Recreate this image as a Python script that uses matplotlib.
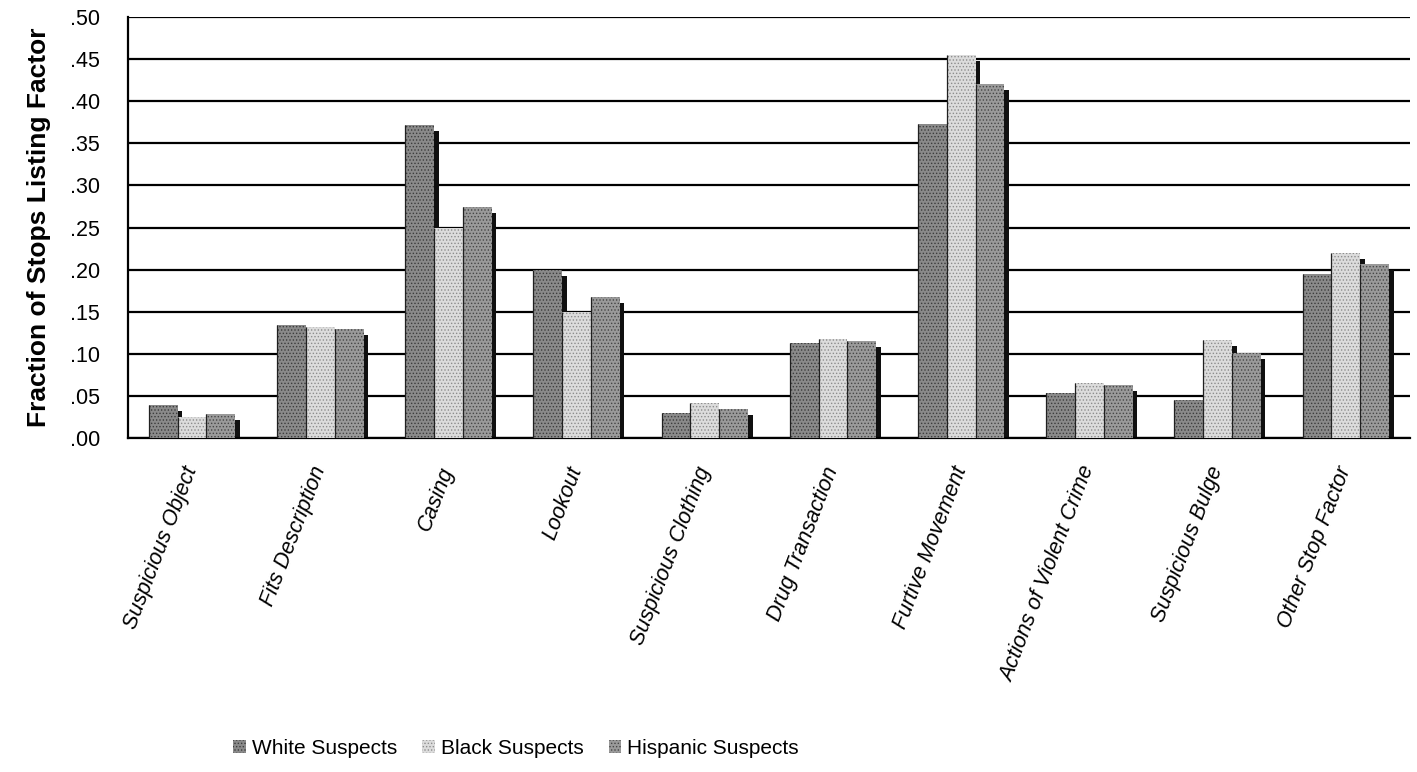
import matplotlib
matplotlib.use("Agg")
import matplotlib.pyplot as plt
import numpy as np
from matplotlib.patches import Patch

plt.rcParams['font.family'] = ['Liberation Sans', 'DejaVu Sans']
plt.rcParams['hatch.linewidth'] = 0.6

factors = ['Suspicious Object', 'Fits Description', 'Casing', 'Lookout',
           'Suspicious Clothing', 'Drug Transaction', 'Furtive Movement',
           'Actions of Violent Crime', 'Suspicious Bulge', 'Other Stop Factor']
white = [0.039, 0.134, 0.372, 0.200, 0.030, 0.113, 0.373, 0.053, 0.045, 0.195]
black = [0.025, 0.132, 0.249, 0.150, 0.042, 0.118, 0.455, 0.065, 0.116, 0.220]
hispanic = [0.029, 0.129, 0.274, 0.167, 0.034, 0.115, 0.420, 0.063, 0.101, 0.207]
series_names = ['White Suspects', 'Black Suspects', 'Hispanic Suspects']
yticks = np.arange(0, 0.51, 0.05)

fills = ['#8a8a8a', '#dcdcdc', '#9a9a9a']
dots = ['#3c3c3c', '#8c8c8c', '#464646']

fig = plt.figure(figsize=(14.17, 7.72), dpi=100)
ax = fig.add_axes([0.0903, 0.4326, 0.9047, 0.5454])

x = np.arange(len(factors))
w = 0.225
depth = 0.035
for i, vals in enumerate([white, black, hispanic]):
    pos = x + (i - 1) * w
    vals = np.array(vals)
    # dark side face of each column, sitting behind the next column
    ax.bar(pos + w / 2 + depth / 2, np.maximum(vals - 0.007, 0), width=depth,
           color='#101010', linewidth=0, zorder=2)
    ax.bar(pos, vals, width=w, color=fills[i], edgecolor=dots[i],
           hatch='.....', linewidth=0, zorder=3)
    # thin dark outline on the left edge
    ax.vlines(pos - w / 2, 0, vals, color='#202020', lw=0.9, zorder=4)

ax.set_xlim(-0.5, len(factors) - 0.5)
ax.set_ylim(0, 0.5)
ax.set_yticks(yticks)
ax.set_yticklabels(['.%02d' % round(v * 100) for v in yticks], fontsize=15.5)
ax.yaxis.grid(True, color='black', lw=1.6)
ax.set_axisbelow(True)
ax.tick_params(axis='y', length=0, pad=20)
ax.tick_params(axis='x', length=0, pad=21)

ax.set_xticks(x)
ax.set_xticklabels(factors, rotation=69, ha='right', va='center',
                   rotation_mode='anchor', fontsize=15.5, style='italic')

for side in ['top', 'right']:
    ax.spines[side].set_visible(False)
for side in ['left', 'bottom']:
    ax.spines[side].set_linewidth(1.6)
    ax.spines[side].set_color('black')

ax.set_ylabel('Fraction of Stops Listing Factor', fontsize=19, fontweight='bold')
ax.yaxis.set_label_coords(-0.060, 0.5)

handles = [Patch(facecolor=fills[i], edgecolor=dots[i], hatch='.....', linewidth=0)
           for i in range(3)]
fig.legend(handles, series_names, loc='center', ncol=3, frameon=False,
           bbox_to_anchor=(516 / 1417, 1 - 748 / 772), fontsize=15,
           handlelength=0.6, handleheight=0.6, handletextpad=0.3,
           columnspacing=1.2)

fig.savefig('out.png', dpi=100)
